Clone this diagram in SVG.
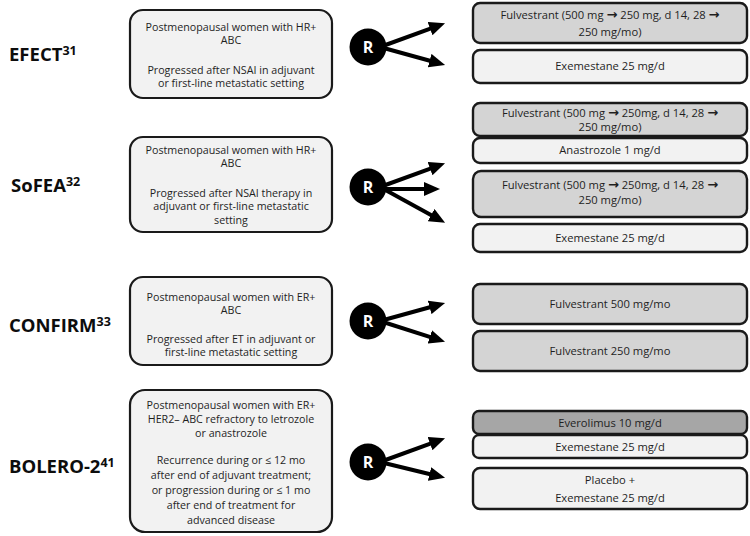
<svg xmlns="http://www.w3.org/2000/svg" width="750" height="536" viewBox="0 0 750 536">
<style>
  .bg{fill:#ffffff}
  .lbox{fill:#f2f2f2;stroke:#1a1a1a;stroke-width:2.2}
  .rl{fill:#f2f2f2;stroke:#1a1a1a;stroke-width:2.4}
  .rm{fill:#d4d4d4;stroke:#1a1a1a;stroke-width:2.4}
  .rd{fill:#a6a6a6;stroke:#1a1a1a;stroke-width:2.4}
  .lt{font-family:"Open Sans","Liberation Sans",sans-serif;font-size:10.7px;fill:#1f1f1f;text-anchor:middle}
  .rt{font-family:"Open Sans","Liberation Sans",sans-serif;font-size:11.2px;fill:#1f1f1f;text-anchor:middle}
  .ar{font-family:"DejaVu Sans",sans-serif;font-weight:bold;font-size:13px}
  .title{font-family:"Open Sans","Liberation Sans",sans-serif;font-size:18.5px;font-weight:bold;fill:#0d0d0d}
  .sup{font-size:12.5px}
  .rc{fill:#000000}
  .rtxt{font-family:"Open Sans","Liberation Sans",sans-serif;font-size:16px;font-weight:bold;fill:#ffffff;text-anchor:middle}
  .arr{stroke:#000000;stroke-width:4;fill:none;marker-end:url(#ah)}
</style>
<defs>
  <marker id="ah" markerUnits="userSpaceOnUse" markerWidth="16" markerHeight="14" refX="4" refY="7" orient="auto">
    <path d="M0,0 L16,7 L0,14 z" fill="#000000"/>
  </marker>
</defs>
<rect class="bg" x="0" y="0" width="750" height="536"/>

<!-- Titles -->
<g id="title-efect"><text class="title" x="9" y="61">EFECT<tspan class="sup" dy="-6">31</tspan></text></g>
<g id="title-sofea"><text class="title" x="11" y="192">SoFEA<tspan class="sup" dy="-6">32</tspan></text></g>
<g id="title-confirm"><text class="title" x="9" y="332">CONFIRM<tspan class="sup" dy="-6">33</tspan></text></g>
<g id="title-bolero"><text class="title" x="9" y="473">BOLERO-2<tspan class="sup" dy="-6">41</tspan></text></g>

<!-- Left criteria boxes -->
<g id="efect-criteria">
  <rect class="lbox" x="130" y="10" width="202" height="88" rx="13"/>
  <text class="lt" x="231" y="30.5">Postmenopausal women with HR+</text>
  <text class="lt" x="231" y="43.5">ABC</text>
  <text class="lt" x="231" y="73.5">Progressed after NSAI in adjuvant</text>
  <text class="lt" x="231" y="86.5">or first-line metastatic setting</text>
</g>
<g id="sofea-criteria">
  <rect class="lbox" x="130" y="137" width="202" height="95" rx="13"/>
  <text class="lt" x="231" y="153.5">Postmenopausal women with HR+</text>
  <text class="lt" x="231" y="167">ABC</text>
  <text class="lt" x="231" y="196.5">Progressed after NSAI therapy in</text>
  <text class="lt" x="231" y="210">adjuvant or first-line metastatic</text>
  <text class="lt" x="231" y="223.5">setting</text>
</g>
<g id="confirm-criteria">
  <rect class="lbox" x="130" y="277" width="202" height="88" rx="13"/>
  <text class="lt" x="231" y="300.5">Postmenopausal women with ER+</text>
  <text class="lt" x="231" y="313.5">ABC</text>
  <text class="lt" x="231" y="342.5">Progressed after ET in adjuvant or</text>
  <text class="lt" x="231" y="355.5">first-line metastatic setting</text>
</g>
<g id="bolero-criteria">
  <rect class="lbox" x="130" y="390" width="202" height="142" rx="15"/>
  <text class="lt" x="231" y="408.5">Postmenopausal women with ER+</text>
  <text class="lt" x="231" y="422.5">HER2– ABC refractory to letrozole</text>
  <text class="lt" x="231" y="436.5">or anastrozole</text>
  <text class="lt" x="231" y="463.5">Recurrence during or ≤ 12 mo</text>
  <text class="lt" x="231" y="478.5">after end of adjuvant treatment;</text>
  <text class="lt" x="231" y="493.5">or progression during or ≤ 1 mo</text>
  <text class="lt" x="231" y="508.5">after end of treatment for</text>
  <text class="lt" x="231" y="523.5">advanced disease</text>
</g>

<!-- Randomization nodes -->
<g id="r-efect"><circle class="rc" cx="368" cy="47" r="18.5"/><text class="rtxt" x="368" y="53">R</text></g>
<g id="r-sofea"><circle class="rc" cx="368" cy="187" r="18.5"/><text class="rtxt" x="368" y="193">R</text></g>
<g id="r-confirm"><circle class="rc" cx="368" cy="321" r="18.5"/><text class="rtxt" x="368" y="327">R</text></g>
<g id="r-bolero"><circle class="rc" cx="368" cy="462" r="18.5"/><text class="rtxt" x="368" y="468">R</text></g>

<!-- Right arm boxes -->
<g id="efect-arm1">
  <rect class="rm" x="473" y="3" width="274" height="40" rx="7"/>
  <text class="rt" x="610" y="19">Fulvestrant (500 mg <tspan class="ar">→</tspan> 250 mg, d 14, 28 <tspan class="ar">→</tspan></text>
  <text class="rt" x="610" y="36">250 mg/mo)</text>
</g>
<g id="efect-arm2">
  <rect class="rl" x="473" y="50" width="274" height="33" rx="7"/>
  <text class="rt" x="610" y="70">Exemestane 25 mg/d</text>
</g>

<g id="sofea-arm1a">
  <rect class="rm" x="473" y="103" width="274" height="33" rx="7"/>
  <text class="rt" x="610" y="117">Fulvestrant (500 mg <tspan class="ar">→</tspan> 250mg, d 14, 28 <tspan class="ar">→</tspan></text>
  <text class="rt" x="610" y="131">250 mg/mo)</text>
</g>
<g id="sofea-arm1b">
  <rect class="rl" x="473" y="138" width="274" height="25" rx="7"/>
  <text class="rt" x="610" y="154">Anastrozole 1 mg/d</text>
</g>
<g id="sofea-arm2">
  <rect class="rm" x="473" y="171" width="274" height="46" rx="8"/>
  <text class="rt" x="610" y="189">Fulvestrant (500 mg <tspan class="ar">→</tspan> 250mg, d 14, 28 <tspan class="ar">→</tspan></text>
  <text class="rt" x="610" y="204">250 mg/mo)</text>
</g>
<g id="sofea-arm3">
  <rect class="rl" x="473" y="224" width="274" height="28" rx="7"/>
  <text class="rt" x="610" y="242">Exemestane 25 mg/d</text>
</g>

<g id="confirm-arm1">
  <rect class="rm" x="473" y="284" width="274" height="40" rx="7"/>
  <text class="rt" x="610" y="308">Fulvestrant 500 mg/mo</text>
</g>
<g id="confirm-arm2">
  <rect class="rm" x="473" y="331" width="274" height="40" rx="7"/>
  <text class="rt" x="610" y="355">Fulvestrant 250 mg/mo</text>
</g>

<g id="bolero-arm1a">
  <rect class="rd" x="473" y="411" width="274" height="23" rx="6"/>
  <text class="rt" x="610" y="427">Everolimus 10 mg/d</text>
</g>
<g id="bolero-arm1b">
  <rect class="rl" x="473" y="435" width="274" height="23" rx="6"/>
  <text class="rt" x="610" y="451">Exemestane 25 mg/d</text>
</g>
<g id="bolero-arm2">
  <rect class="rl" x="473" y="468" width="274" height="41" rx="7"/>
  <text class="rt" x="610" y="484">Placebo +</text>
  <text class="rt" x="610" y="502">Exemestane 25 mg/d</text>
</g>

<!-- Connectors -->
<g id="connectors">
  <line class="arr" x1="380" y1="47" x2="433.8" y2="27.3"/>
  <line class="arr" x1="380" y1="47" x2="433.5" y2="61.7"/>
  <line class="arr" x1="380" y1="187" x2="433.8" y2="167.3"/>
  <line class="arr" x1="380" y1="189" x2="428" y2="189"/>
  <line class="arr" x1="380" y1="187" x2="434.6" y2="217"/>
  <line class="arr" x1="380" y1="321" x2="433.5" y2="306.3"/>
  <line class="arr" x1="380" y1="321" x2="433.6" y2="338.2"/>
  <line class="arr" x1="380" y1="462" x2="433.8" y2="442.3"/>
  <line class="arr" x1="380" y1="462" x2="433.4" y2="475"/>
</g>
</svg>
